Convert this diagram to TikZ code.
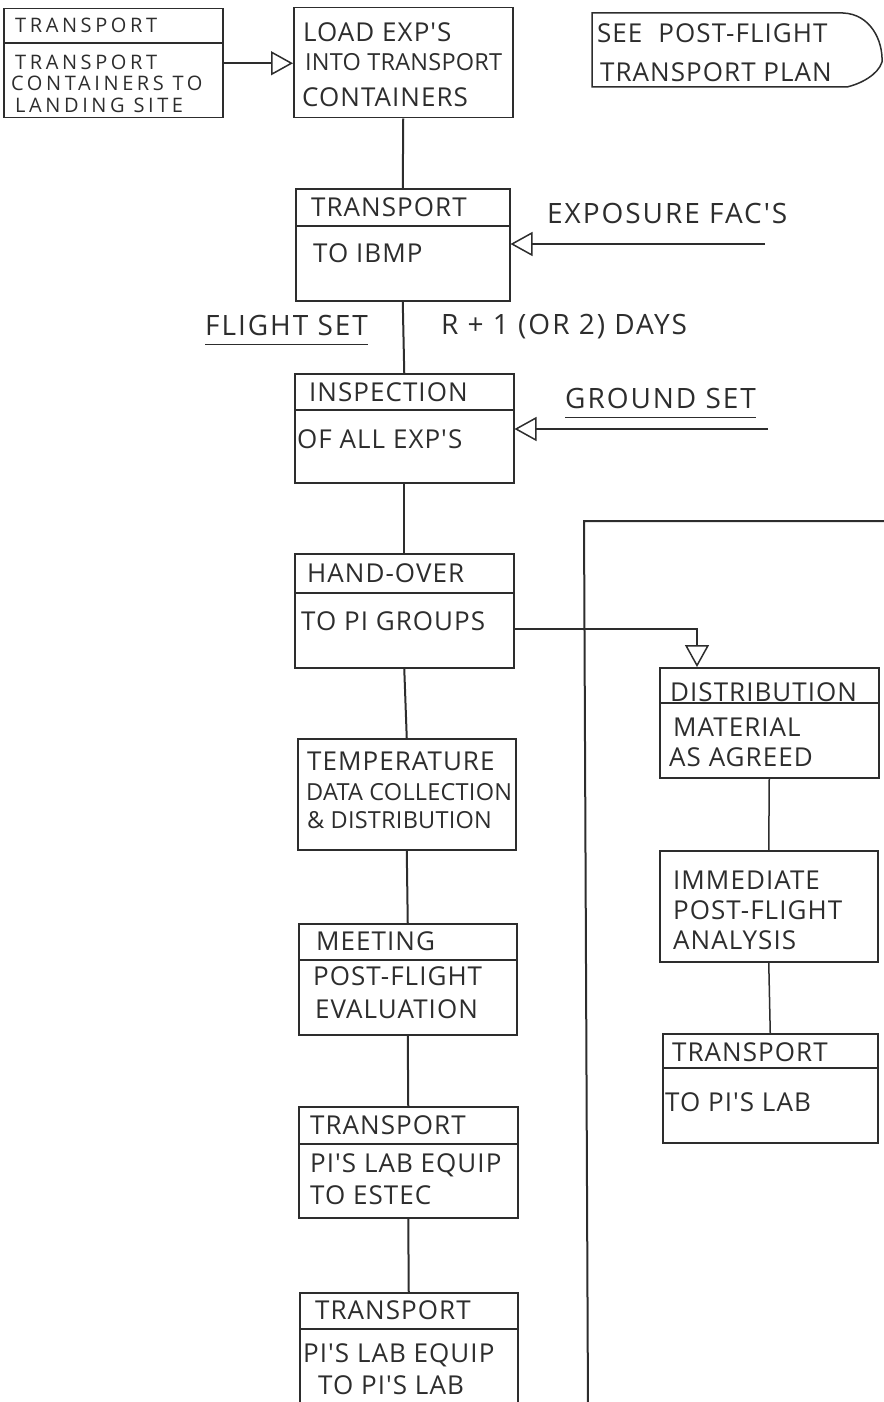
\documentclass[tikz,border=0pt]{standalone}
\usepackage{fontspec}
\newfontfamily\handfont{Open Sans}
\usetikzlibrary{arrows.meta,positioning,calc}
\definecolor{ink}{RGB}{45,45,45}

\tikzset{
  box/.style={draw=ink, line width=1.5pt, anchor=north west, inner sep=0pt},
  divider/.style={draw=ink, line width=1.2pt},
  txt/.style={anchor=west, inner sep=0pt, text=ink, font=\handfont\fontsize{26}{30}\selectfont\addfontfeature{LetterSpace=4}},
  tighttxt/.style={txt, font=\handfont\fontsize{23.5}{28}\selectfont\addfontfeature{LetterSpace=1}},
  smalltxt/.style={txt, font=\handfont\fontsize{20}{24}\selectfont\addfontfeature{LetterSpace=18}},
  bigtxt/.style={txt, font=\handfont\fontsize{28}{32}\selectfont\addfontfeature{LetterSpace=7}},
  link/.style={draw=ink, line width=2pt},
  thinlink/.style={draw=ink, line width=1.5pt},
  feed/.style={draw=ink, line width=1.5pt, -{Triangle[open, length=22pt, width=24pt]}},
}

\begin{document}
\begin{tikzpicture}[x=1pt, y=-1pt]
\useasboundingbox (0,0) rectangle (883,1402);

% top row
\node[box, minimum width=219pt, minimum height=109pt] (carry) at (3,8) {};
\draw[divider] ([yshift=-35pt]carry.north west) -- ([yshift=-35pt]carry.north east);
\node[smalltxt] (carry-t1) at ([shift={(12pt,-17pt)}]carry.north west) {TRANSPORT};
\node[smalltxt] (carry-t2) at ([shift={(12pt,-54pt)}]carry.north west) {TRANSPORT};
\node[smalltxt] (carry-t3) at ([shift={(8pt,-75pt)}]carry.north west) {CONTAINERS TO};
\node[smalltxt] (carry-t4) at ([shift={(12pt,-97pt)}]carry.north west) {LANDING SITE};

\node[box, minimum width=219pt, minimum height=110pt] (load) at (293,7) {};
\node[txt] (load-t1) at ([shift={(10pt,-25pt)}]load.north west) {LOAD EXP'S};
\node[tighttxt] (load-t2) at ([shift={(12pt,-55pt)}]load.north west) {INTO TRANSPORT};
\node[txt] (load-t3) at ([shift={(9pt,-90pt)}]load.north west) {CONTAINERS};

\draw[ink, line width=1.5pt] (592,13) -- (843,13)
  .. controls (870,14) and (883,40) .. (882,62)
  .. controls (878,75) and (860,84) .. (847,87) -- (592,87) -- cycle;
\node[txt] (see-t1) at (597,33) {SEE\hspace{16pt}POST-FLIGHT};
\node[txt] (see-t2) at (600,72) {TRANSPORT PLAN};

% main column
\node[box, minimum width=214pt, minimum height=112pt] (ibmp) at (295,188) {};
\draw[divider] ([yshift=-38pt]ibmp.north west) -- ([yshift=-38pt]ibmp.north east);
\node[txt] (ibmp-t1) at ([shift={(16pt,-19pt)}]ibmp.north west) {TRANSPORT};
\node[txt] (ibmp-t2) at ([shift={(18pt,-65pt)}]ibmp.north west) {TO IBMP};

\node[box, minimum width=219pt, minimum height=109pt] (insp) at (294,373) {};
\draw[divider] ([yshift=-37pt]insp.north west) -- ([yshift=-37pt]insp.north east);
\node[txt] (insp-t1) at ([shift={(15pt,-19pt)}]insp.north west) {INSPECTION};
\node[txt] (insp-t2) at ([shift={(3pt,-66pt)}]insp.north west) {OF ALL EXP'S};

\node[box, minimum width=219pt, minimum height=114pt] (hand) at (294,553) {};
\draw[divider] ([yshift=-40pt]hand.north west) -- ([yshift=-40pt]hand.north east);
\node[txt] (hand-t1) at ([shift={(13pt,-20pt)}]hand.north west) {HAND-OVER};
\node[txt] (hand-t2) at ([shift={(7pt,-68pt)}]hand.north west) {TO PI GROUPS};

\node[box, minimum width=218pt, minimum height=111pt] (temp) at (297,738) {};
\node[txt] (temp-t1) at ([shift={(10pt,-23pt)}]temp.north west) {TEMPERATURE};
\node[tighttxt] (temp-t2) at ([shift={(9pt,-54pt)}]temp.north west) {DATA COLLECTION};
\node[tighttxt] (temp-t3) at ([shift={(10pt,-82pt)}]temp.north west) {\& DISTRIBUTION};

\node[box, minimum width=218pt, minimum height=111pt] (meet) at (298,923) {};
\draw[divider] ([yshift=-37pt]meet.north west) -- ([yshift=-37pt]meet.north east);
\node[txt] (meet-t1) at ([shift={(18pt,-18pt)}]meet.north west) {MEETING};
\node[txt] (meet-t2) at ([shift={(15pt,-53pt)}]meet.north west) {POST-FLIGHT};
\node[txt] (meet-t3) at ([shift={(17pt,-86pt)}]meet.north west) {EVALUATION};

\node[box, minimum width=219pt, minimum height=111pt] (estec) at (298,1106) {};
\draw[divider] ([yshift=-38pt]estec.north west) -- ([yshift=-38pt]estec.north east);
\node[txt] (estec-t1) at ([shift={(12pt,-19pt)}]estec.north west) {TRANSPORT};
\node[txt] (estec-t2) at ([shift={(12pt,-59pt)}]estec.north west) {PI'S LAB EQUIP};
\node[txt] (estec-t3) at ([shift={(12pt,-89pt)}]estec.north west) {TO ESTEC};

\node[box, minimum width=218pt, minimum height=125pt] (pilab) at (299,1292) {};
\draw[divider] ([yshift=-37pt]pilab.north west) -- ([yshift=-37pt]pilab.north east);
\node[txt] (pilab-t1) at ([shift={(16pt,-18pt)}]pilab.north west) {TRANSPORT};
\node[txt] (pilab-t2) at ([shift={(4pt,-63pt)}]pilab.north west) {PI'S LAB EQUIP};
\node[txt] (pilab-t3) at ([shift={(19pt,-93pt)}]pilab.north west) {TO PI'S LAB};

% right column
\node[box, minimum width=219pt, minimum height=110pt] (dist) at (659,667) {};
\draw[divider] ([yshift=-36pt]dist.north west) -- ([yshift=-36pt]dist.north east);
\node[txt] (dist-t1) at ([shift={(11pt,-25pt)}]dist.north west) {DISTRIBUTION};
\node[txt] (dist-t2) at ([shift={(14pt,-60pt)}]dist.north west) {MATERIAL};
\node[txt] (dist-t3) at ([shift={(10pt,-90pt)}]dist.north west) {AS AGREED};

\node[box, minimum width=218pt, minimum height=111pt] (immed) at (659,850) {};
\node[txt] (immed-t1) at ([shift={(14pt,-30pt)}]immed.north west) {IMMEDIATE};
\node[txt] (immed-t2) at ([shift={(14pt,-60pt)}]immed.north west) {POST-FLIGHT};
\node[txt] (immed-t3) at ([shift={(14pt,-90pt)}]immed.north west) {ANALYSIS};

\node[box, minimum width=215pt, minimum height=109pt] (pilabr) at (662,1033) {};
\draw[divider] ([yshift=-35pt]pilabr.north west) -- ([yshift=-35pt]pilabr.north east);
\node[txt] (pilabr-t1) at ([shift={(10pt,-19pt)}]pilabr.north west) {TRANSPORT};
\node[txt] (pilabr-t2) at ([shift={(3pt,-69pt)}]pilabr.north west) {TO PI'S LAB};

% side labels
\node[bigtxt] (expo-txt) at (547,213) {EXPOSURE FAC'S};
\node[bigtxt] (days) at (441,327) {R + 1 (OR 2) DAYS};
\node[bigtxt] (flight) at (205,325) {FLIGHT SET};
\node[bigtxt] (ground) at (565,398) {GROUND SET};
\draw[ink, line width=1.1pt] ([yshift=-9pt]flight.south west) -- ([yshift=-9pt]flight.south east);
\draw[ink, line width=1.1pt] ([yshift=-9pt]ground.south west) -- ([yshift=-9pt]ground.south east);

\coordinate (expo) at (765,244);
\coordinate (gset) at (768,429);
\coordinate (railtop) at (584,521);
\coordinate (railbot) at (588,1410);
\coordinate (railend) at (890,521);

% connectors
\draw[feed] (carry.east) -- (load.west |- carry.east);
\draw[link] (load.south) -- (ibmp.north);
\draw[link] (ibmp.south) -- (insp.north);
\draw[link] (insp.south) -- (hand.north);
\draw[link] (hand.south) -- (temp.north);
\draw[link] (temp.south) -- (meet.north);
\draw[link] (meet.south) -- (estec.north);
\draw[link] (estec.south) -- (pilab.north);
\draw[feed] (expo) -- (ibmp.east |- expo);
\draw[feed] (gset) -- (insp.east |- gset);
\draw[link] (railbot) -- (railtop) -- (railend);
\draw[feed] ([yshift=-76pt]hand.north east) -| ([xshift=38pt]dist.north west);
\draw[thinlink] (dist.south) -- (immed.north);
\draw[thinlink] (immed.south) -- (pilabr.north);
\end{tikzpicture}
\end{document}
